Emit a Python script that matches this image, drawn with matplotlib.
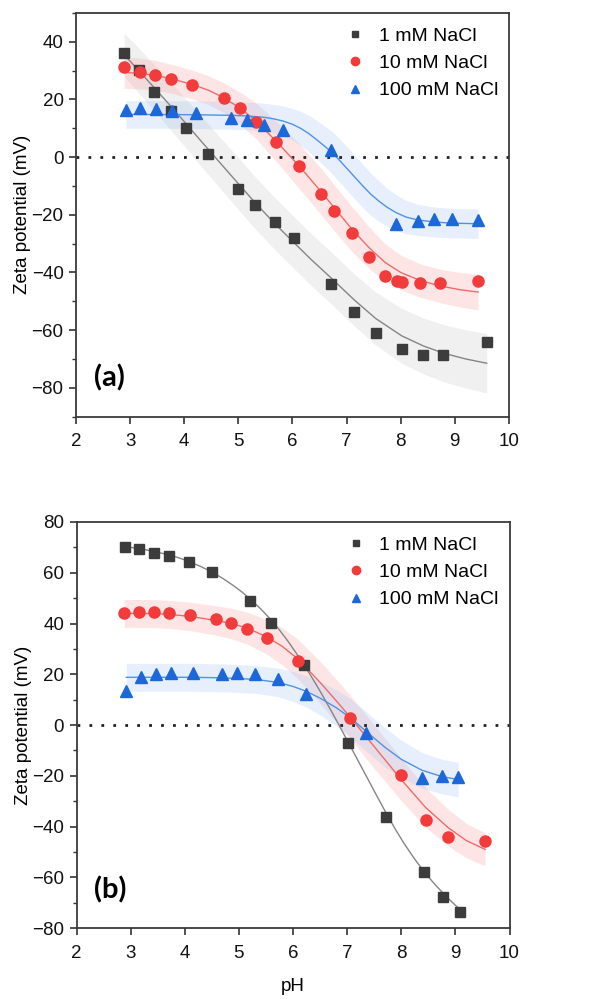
import numpy as np
import matplotlib
matplotlib.use('Agg')
import matplotlib.pyplot as plt
from matplotlib.ticker import MultipleLocator

plt.rcParams['font.family'] = ['Liberation Sans', 'DejaVu Sans']

labels = ['1 mM NaCl', '10 mM NaCl', '100 mM NaCl']

# ---- panel (a): measured points ----
a_ph1 = [2.89, 3.16, 3.45, 3.76, 4.03, 4.44, 4.99, 5.31, 5.68, 6.02, 6.72, 7.14, 7.54, 8.02, 8.42, 8.79, 9.59]
a_z1 = [36.0, 30.2, 22.5, 15.9, 10.0, 1.1, -11.1, -16.7, -22.5, -28.0, -44.1, -53.8, -60.9, -66.6, -68.6, -68.6, -64.0]
a_ph2 = [2.89, 3.18, 3.46, 3.76, 4.15, 4.74, 5.03, 5.33, 5.70, 6.12, 6.53, 6.77, 7.10, 7.42, 7.71, 7.93, 8.02, 8.36, 8.73, 9.43]
a_z2 = [31.3, 29.7, 28.4, 27.2, 24.9, 20.6, 17.0, 12.1, 5.2, -3.0, -12.7, -18.7, -26.2, -34.8, -41.3, -42.8, -43.3, -43.6, -43.7, -42.8]
a_ph3 = [2.92, 3.18, 3.47, 3.77, 4.21, 4.86, 5.16, 5.48, 5.83, 6.72, 7.91, 8.32, 8.62, 8.94, 9.43]
a_z3 = [16.4, 17.2, 16.7, 15.9, 15.2, 13.6, 13.0, 11.3, 9.3, 2.3, -23.3, -22.1, -21.5, -21.3, -21.8]

# ---- panel (a): fit curves and band half widths ----
a_fx1 = [2.89, 3.16, 3.45, 3.76, 4.03, 4.30, 4.57, 4.99, 5.31, 5.68, 6.02, 6.35, 6.72, 7.14, 7.54, 8.02, 8.42, 8.79, 9.20, 9.59]
a_fy1 = [35.5, 30.0, 24.0, 17.5, 11.7, 5.8, 0.0, -9.0, -15.8, -23.2, -29.5, -35.6, -42.0, -49.5, -56.0, -62.0, -65.5, -68.0, -70.0, -71.5]
a_hw1 = [7.5, 7.8, 8.0, 8.3, 8.5, 8.7, 8.8, 9.0, 9.0, 9.0, 9.0, 9.0, 9.0, 9.0, 9.2, 9.5, 9.7, 9.9, 10.1, 10.3]
a_fx2 = [2.89, 3.18, 3.46, 3.76, 4.15, 4.45, 4.74, 5.03, 5.33, 5.70, 6.12, 6.53, 6.77, 7.10, 7.42, 7.71, 8.00, 8.36, 8.73, 9.10, 9.43]
a_fy2 = [29.4, 29.0, 28.4, 27.2, 25.2, 23.2, 20.5, 17.0, 12.5, 5.5, -3.0, -12.0, -17.5, -25.0, -31.5, -36.5, -40.0, -42.8, -44.7, -46.0, -46.8]
a_hw2 = [5.5, 5.3, 5.2, 5.0, 5.0, 5.0, 5.2, 5.6, 6.2, 7.0, 7.8, 8.0, 8.0, 7.8, 7.2, 6.5, 6.0, 5.8, 5.8, 6.0, 6.2]
a_fx3 = [2.92, 3.50, 4.20, 4.86, 5.16, 5.48, 5.65, 5.83, 6.00, 6.15, 6.30, 6.45, 6.60, 6.72,
         6.86, 7.00, 7.15, 7.30, 7.45, 7.60, 7.75, 7.91, 8.10, 8.32, 8.62, 8.94, 9.43]
a_fy3 = [14.8, 14.8, 14.7, 14.5, 14.3, 13.8, 13.3, 12.5, 11.4, 10.0, 8.2, 6.0, 3.7, 1.8,
         -0.9, -3.8, -6.9, -10.0, -12.9, -15.3, -17.4, -19.2, -20.8, -21.8, -22.5, -22.9, -23.1]
a_hw3 = [4.8, 4.8, 4.8, 4.8, 4.8, 4.9, 5.0, 5.2, 5.5, 5.9, 6.3, 6.7, 7.0, 7.3,
         7.5, 7.6, 7.6, 7.5, 7.3, 7.0, 6.6, 6.2, 5.8, 5.4, 5.2, 5.1, 5.1]

# ---- panel (b): measured points ----
b_ph1 = [2.90, 3.16, 3.43, 3.71, 4.07, 4.50, 5.20, 5.60, 6.20, 7.01, 7.72, 8.42, 8.77, 9.08]
b_z1 = [70.1, 69.2, 67.7, 66.7, 64.3, 60.1, 48.7, 40.3, 23.6, -7.2, -36.4, -58.0, -67.7, -73.6]
b_ph2 = [2.88, 3.16, 3.43, 3.71, 4.09, 4.58, 4.86, 5.15, 5.51, 6.09, 7.06, 8.00, 8.45, 8.87, 9.55]
b_z2 = [44.2, 44.5, 44.4, 44.1, 43.2, 41.6, 40.3, 37.9, 34.1, 25.1, 2.9, -19.6, -37.4, -44.2, -45.7]
b_ph3 = [2.92, 3.19, 3.47, 3.75, 4.15, 4.69, 4.96, 5.30, 5.72, 6.23, 7.35, 8.38, 8.75, 9.05]
b_z3 = [13.5, 18.8, 20.1, 20.6, 20.6, 20.2, 20.6, 20.2, 18.1, 12.2, -3.0, -20.7, -20.2, -20.6]

# ---- panel (b): fit curves and band half widths ----
b_fx1 = [2.90, 3.16, 3.43, 3.71, 3.90, 4.07, 4.30, 4.50, 4.70, 4.90, 5.05, 5.20, 5.40, 5.60, 5.75,
         5.90, 6.05, 6.20, 6.35, 6.50, 6.65, 6.80, 7.01, 7.18, 7.35, 7.54, 7.72, 7.90, 8.05, 8.25,
         8.42, 8.60, 8.77, 8.93, 9.08]
b_fy1 = [70.3, 69.5, 68.4, 67.0, 65.8, 64.5, 62.4, 60.3, 57.8, 54.9, 52.5, 49.8, 45.8, 41.3, 37.4,
         33.2, 28.6, 23.8, 18.7, 13.3, 7.7, 1.9, -6.4, -13.2, -20.0, -27.6, -34.7, -41.4, -46.6, -52.9,
         -57.7, -62.3, -66.2, -69.6, -72.6]
b_fx2 = [2.88, 3.43, 3.71, 4.09, 4.58, 4.86, 5.15, 5.51, 5.80, 6.09, 6.50, 6.80, 7.06, 7.50, 8.00, 8.45, 8.87, 9.20, 9.55]
b_fy2 = [44.0, 43.9, 43.6, 42.8, 41.2, 40.0, 38.2, 34.8, 31.0, 26.0, 16.8, 9.5, 3.0, -8.5, -21.5, -32.5, -40.5, -45.5, -49.0]
b_hw2 = [5.5, 5.5, 5.5, 5.6, 5.8, 6.0, 6.3, 6.8, 7.3, 7.8, 8.3, 8.5, 8.6, 8.6, 8.3, 7.8, 7.2, 6.8, 6.5]
b_fx3 = [2.92, 3.50, 4.15, 4.69, 5.30, 5.72, 6.00, 6.23, 6.50, 6.80, 7.05, 7.35, 7.70, 8.00, 8.38, 8.75, 9.05]
b_fy3 = [18.8, 18.8, 18.8, 18.6, 18.0, 16.8, 15.2, 13.4, 10.6, 6.8, 3.0, -2.5, -8.8, -13.5, -17.8, -20.3, -21.5]
b_hw3 = [5.5, 5.5, 5.5, 5.5, 5.5, 5.6, 5.9, 6.2, 6.6, 7.1, 7.5, 7.8, 7.8, 7.5, 7.0, 6.8, 6.8]

mk_colors = ['#3c3c3c', '#f23b3b', '#1c68d8']
line_colors = ['#858585', '#f06a6a', '#4f93e6']
band_colors = ['#c8c8c8', '#f99a9a', '#9cc3f3']
markers = ['s', 'o', '^']
msizes = [6.6, 8.0, 8.0]

fig = plt.figure(figsize=(6.08, 9.99), dpi=100)
ax_a = fig.add_axes([0.125, 0.583, 0.712, 0.404])
ax_b = fig.add_axes([0.126, 0.071, 0.712, 0.4065])


def band(ax, x, y, hw, i, alpha):
    x = np.array(x)
    y = np.array(y)
    hw = np.array(hw)
    ax.fill_between(x, y - hw, y + hw, color=band_colors[i], alpha=alpha, lw=0, zorder=1)


def style_axes(ax, ylim, yticks):
    ax.set_xlim(2, 10)
    ax.set_ylim(*ylim)
    ax.set_yticks(yticks)
    ax.xaxis.set_major_locator(MultipleLocator(1))
    ax.yaxis.set_minor_locator(MultipleLocator(10))
    ax.tick_params(axis='both', which='major', direction='out', length=5, width=1.2,
                   labelsize=13.5, colors='#333333', labelcolor='#111111', pad=4)
    ax.tick_params(axis='x', which='major', pad=7)
    ax.tick_params(axis='y', which='minor', direction='out', length=3, width=1.0, colors='#333333')
    for s in ax.spines.values():
        s.set_color('#3a3a3a')
        s.set_linewidth(1.3)
    ax.axhline(0, color='#222222', lw=2.0, ls=(0, (1, 3.3)), zorder=2)
    ax.set_ylabel('Zeta potential (mV)', fontsize=13.5, labelpad=0)
    ax.legend(loc='upper right', bbox_to_anchor=(1.013, 1.006), frameon=False, fontsize=14,
              markerscale=0.75, handletextpad=0.6, labelspacing=0.5, borderaxespad=0.45,
              handlelength=1.2)


# panel (a)
band(ax_a, a_fx1, a_fy1, a_hw1, 0, 0.27)
band(ax_a, a_fx2, a_fy2, a_hw2, 1, 0.25)
band(ax_a, a_fx3, a_fy3, a_hw3, 2, 0.25)
for i, (fx, fy) in enumerate([(a_fx1, a_fy1), (a_fx2, a_fy2), (a_fx3, a_fy3)]):
    ax_a.plot(fx, fy, color=line_colors[i], lw=1.0, zorder=3)
for i, (px, pz) in enumerate([(a_ph1, a_z1), (a_ph2, a_z2), (a_ph3, a_z3)]):
    ax_a.plot(px, pz, ls='none', marker=markers[i], ms=msizes[i], color=mk_colors[i],
              mec=mk_colors[i], zorder=4, label=labels[i])
style_axes(ax_a, (-90, 50), [-80, -60, -40, -20, 0, 20, 40])
ax_a.text(0.078, 0.096, '(a)', transform=ax_a.transAxes, fontsize=21, fontweight='bold',
          family='Lato', ha='center', va='center')

# panel (b)
band(ax_b, b_fx2, b_fy2, b_hw2, 1, 0.25)
band(ax_b, b_fx3, b_fy3, b_hw3, 2, 0.25)
for i, (fx, fy) in enumerate([(b_fx1, b_fy1), (b_fx2, b_fy2), (b_fx3, b_fy3)]):
    ax_b.plot(fx, fy, color=line_colors[i], lw=1.0, zorder=3)
for i, (px, pz) in enumerate([(b_ph1, b_z1), (b_ph2, b_z2), (b_ph3, b_z3)]):
    ax_b.plot(px, pz, ls='none', marker=markers[i], ms=msizes[i], color=mk_colors[i],
              mec=mk_colors[i], zorder=4, label=labels[i])
style_axes(ax_b, (-80, 80), [-80, -60, -40, -20, 0, 20, 40, 60, 80])
ax_b.set_xlabel('pH', fontsize=13.5, labelpad=12)
ax_b.text(0.078, 0.094, '(b)', transform=ax_b.transAxes, fontsize=21, fontweight='bold',
          family='Lato', ha='center', va='center')

fig.savefig('out.png', dpi=100)
